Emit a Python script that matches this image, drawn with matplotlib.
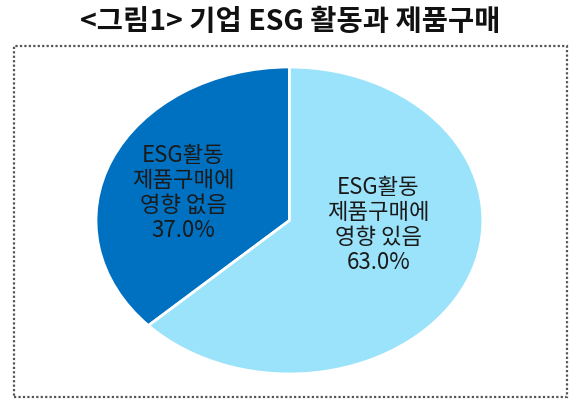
import matplotlib.pyplot as plt
from matplotlib.patches import Rectangle

plt.rcParams['font.family'] = ['Noto Sans CJK KR', 'DejaVu Sans']

# data
labels = ['ESG활동\n제품구매에\n영향 없음', 'ESG활동\n제품구매에\n영향 있음']
shares = [37.0, 63.0]
colors = ['#0070C0', '#9BE3FA']
title = '<그림1> 기업 ESG 활동과 제품구매'

fig = plt.figure(figsize=(5.8, 4.09), dpi=100)

# dotted frame around the chart
fig.patches.append(Rectangle((0.0241, 0.0293), 0.9535, 0.8582, transform=fig.transFigure,
                             fill=False, edgecolor='#555555', linewidth=1.6,
                             linestyle=(0, (1, 1))))

fig.text(0.5, 0.945, title, ha='center', va='center', fontsize=20.5, fontweight='bold',
         color='#111111')

# pie is stretched horizontally, so aspect stays auto
ax = fig.add_axes([0.1655, 0.0856, 0.667, 0.7506])
wedges, _ = ax.pie(shares, colors=colors, startangle=90, counterclock=True, radius=1,
                   wedgeprops=dict(edgecolor='white', linewidth=2))
ax.set_xlim(-1, 1)
ax.set_ylim(-1, 1)
ax.set_aspect('auto')
ax.axis('off')

label_pos = [(-0.55, 0.18), (0.46, -0.03)]
for lab, v, (x, y) in zip(labels, shares, label_pos):
    ax.text(x, y, f'{lab}\n{v:.1f}%', ha='center', va='center', fontsize=16,
            fontweight='medium', color='#1a1a1a', linespacing=1.12)

plt.savefig('out.png', dpi=100)
